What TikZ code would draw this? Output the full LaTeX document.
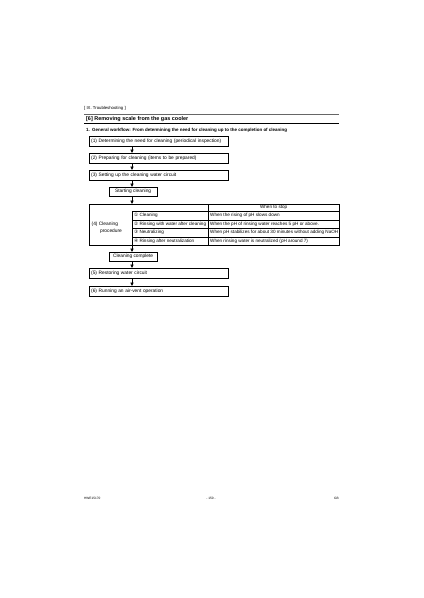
\documentclass[tikz,border=0pt]{standalone}
\usepackage{fontspec}
\setmainfont{Liberation Sans}
\newfontfamily\circfont{DejaVu Sans}
\usetikzlibrary{arrows.meta}
\newdimen\pxu \pxu=1.4066pt
\begin{document}
\begin{tikzpicture}[x=1.4066pt,y=-1.4066pt,
  every node/.style={inner sep=0pt},
  small/.style={font=\fontsize{6.8}{8}\selectfont},
  tiny/.style={font=\fontsize{4.5}{5.4}\selectfont},
  box/.style={draw, line width=0.5pt, minimum height=10\pxu, text width=135\pxu,
    inner xsep=2\pxu, inner ysep=0pt, align=left, anchor=north west, small},
  sbox/.style={draw, line width=0.5pt, minimum width=48\pxu, minimum height=9\pxu,
    anchor=north west, small},
  cell/.style={draw, line width=0.4pt, anchor=north west},
  ctext/.style={anchor=west, font=\fontsize{6.5}{7.5}\selectfont},
  arr/.style={-{Triangle[length=4.8pt,width=4.5pt]}, line width=0.9pt}
]
\useasboundingbox (0,0) rectangle (423,598);
\fill[white] (0,0) rectangle (423,598);

% header
\node[anchor=west, font=\fontsize{6}{7}\selectfont] (hdr) at (84,108) {[ IX. Troubleshooting ]};
\draw[line width=0.5pt, black!60] (84,114) -- (339,114);
\node[anchor=west, font=\bfseries\fontsize{7.7}{9}\selectfont] (title) at (86,119) {[6] Removing scale from the gas cooler};
\draw[line width=1pt] (84,123.5) -- (339,123.5);
\node[anchor=west, font=\bfseries\fontsize{6.3}{7.5}\selectfont] (sub) at (86,130) {1.\enspace General workflow: From determining the need for cleaning up to the completion of cleaning};

\coordinate (ax) at (132,0);

% flow boxes
\node[box] (b1) at (89,136) {(1) Determining the need for cleaning (periodical inspection)};
\node[box] (b2) at (89,153) {(2) Preparing for cleaning (items to be prepared)};
\node[box] (b3) at (89,170) {(3) Setting up the cleaning water circuit};
\node[sbox] (start) at (109,187) {Starting cleaning};

% table
\node[cell, minimum width=250\pxu, minimum height=41\pxu] (tbl) at (89,204) {};
\node[cell, minimum width=131\pxu, minimum height=7\pxu] (hstop) at (208,204) {};
\node[ctext, anchor=center] (hstopt) at (hstop.center) {When to stop};

\node[cell, minimum width=76\pxu, minimum height=8.5\pxu] (s1) at (132,211) {};
\node[cell, minimum width=76\pxu, minimum height=8.5\pxu] (s2) at (132,219.5) {};
\node[cell, minimum width=76\pxu, minimum height=8.5\pxu] (s3) at (132,228) {};
\node[cell, minimum width=76\pxu, minimum height=8.5\pxu] (s4) at (132,236.5) {};
\node[cell, minimum width=131\pxu, minimum height=8.5\pxu] (w1) at (208,211) {};
\node[cell, minimum width=131\pxu, minimum height=8.5\pxu] (w2) at (208,219.5) {};
\node[cell, minimum width=131\pxu, minimum height=8.5\pxu] (w3) at (208,228) {};
\node[cell, minimum width=131\pxu, minimum height=8.5\pxu] (w4) at (208,236.5) {};

\node[ctext] (s1t) at ([xshift=2\pxu]s1.west) {{\circfont ①}\ Cleaning};
\node[ctext] (s2t) at ([xshift=2\pxu]s2.west) {{\circfont ②}\ Rinsing with water after cleaning};
\node[ctext] (s3t) at ([xshift=2\pxu]s3.west) {{\circfont ③}\ Neutralizing};
\node[ctext] (s4t) at ([xshift=2\pxu]s4.west) {{\circfont ④}\ Rinsing after neutralization};
\node[ctext] (w1t) at ([xshift=2\pxu]w1.west) {When the rising of pH slows down};
\node[ctext] (w2t) at ([xshift=2\pxu]w2.west) {When the pH of rinsing water reaches 5 pH or above.};
\node[ctext] (w3t) at ([xshift=2\pxu]w3.west) {When pH stabilizes for about 30 minutes without adding NaOH};
\node[ctext] (w4t) at ([xshift=2\pxu]w4.west) {When rinsing water is neutralized (pH around 7)};

\node[anchor=west, align=left, font=\fontsize{6.8}{9.8}\selectfont] (proc) at (91.5,227.8) {(4)\ Cleaning\\\hspace*{8.5\pxu}procedure};

\node[sbox] (done) at (109,252) {Cleaning complete};
\node[box] (b5) at (89,268) {(5) Restoring water circuit};
\node[box] (b6) at (89,286) {(6) Running an air-vent operation};

% arrows
\draw[arr] (b1.south -| ax) -- (b2.north -| ax);
\draw[arr] (b2.south -| ax) -- (b3.north -| ax);
\draw[arr] (b3.south -| ax) -- (start.north -| ax);
\draw[arr] (start.south -| ax) -- (tbl.north -| ax);
\draw[arr] (tbl.south -| ax) -- (done.north -| ax);
\draw[arr] (done.south -| ax) -- (b5.north -| ax);
\draw[arr] (b5.south -| ax) -- (b6.north -| ax);

% footer
\node[anchor=west, tiny] (f1) at (84,498) {HWE15170};
\node[tiny] (f2) at (211,498) {- 150 -};
\node[anchor=east, tiny] (f3) at (339,498) {GB};
\end{tikzpicture}
\end{document}
